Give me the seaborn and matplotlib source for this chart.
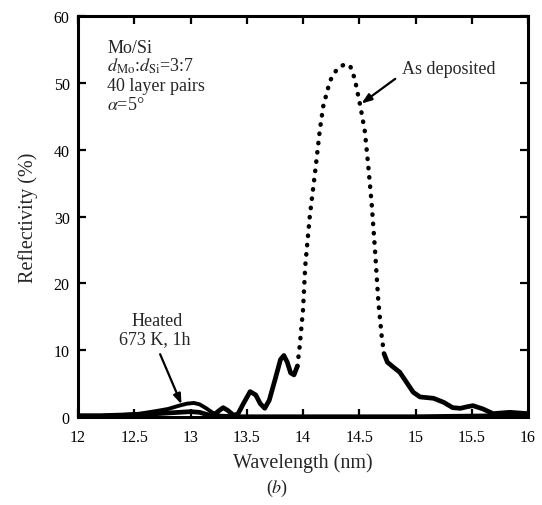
import matplotlib
matplotlib.use("Agg")
import matplotlib.pyplot as plt
import numpy as np
import pandas as pd
import seaborn as sns

# ---- data ----
wavelength_dep = [12.00, 12.20, 12.40, 12.55, 12.70, 12.80, 12.90, 13.00, 13.08, 13.14,
                  13.20, 13.25, 13.29, 13.33, 13.38, 13.42, 13.47, 13.53, 13.58, 13.62,
                  13.66, 13.70, 13.75, 13.80, 13.83, 13.86, 13.89, 13.92, 13.95, 13.97,
                  14.00, 14.02, 14.06, 14.11, 14.15, 14.18, 14.24, 14.30, 14.37, 14.42,
                  14.46, 14.51, 14.55, 14.58, 14.61, 14.64, 14.67, 14.70, 14.72, 14.75,
                  14.80, 14.86, 14.92, 14.98, 15.04, 15.10, 15.16, 15.25, 15.33, 15.40,
                  15.45, 15.51, 15.60, 15.69, 15.76, 15.84, 15.92, 16.00]
reflect_dep = [0.2, 0.2, 0.3, 0.4, 0.5, 0.6, 0.7, 0.8, 0.7, 0.4,
               0.2, 0.9, 1.4, 1.0, 0.3, 0.4, 2.0, 3.8, 3.3, 2.0,
               1.3, 2.5, 5.5, 8.6, 9.2, 8.2, 6.6, 6.3, 7.6, 10.5,
               16.0, 22.6, 30.0, 37.0, 43.0, 46.5, 50.3, 52.0, 52.8, 52.5,
               50.6, 46.5, 42.7, 37.6, 32.0, 25.0, 17.2, 12.0, 9.5, 8.2,
               7.5, 6.7, 5.2, 3.7, 3.0, 2.9, 2.8, 2.2, 1.4, 1.3,
               1.5, 1.7, 1.2, 0.5, 0.6, 0.7, 0.6, 0.5]

wavelength_heat = [12.00, 12.20, 12.40, 12.55, 12.70, 12.80, 12.90, 12.97, 13.03, 13.08,
                   13.14, 13.20, 13.26, 13.40, 13.70, 14.00, 14.50, 15.00, 15.50, 16.00]
reflect_heat = [0.1, 0.15, 0.3, 0.5, 0.9, 1.2, 1.7, 2.0, 2.1, 1.9,
                1.3, 0.6, 0.2, 0.1, 0.1, 0.1, 0.1, 0.1, 0.2, 0.3]

x_ticks = [12, 12.5, 13, 13.5, 14, 14.5, 15, 15.5, 16]
x_tick_labels = ["12", "12.5", "13", "13.5", "14", "14.5", "15", "15.5", "16"]
y_ticks = [0, 10, 20, 30, 40, 50, 60]
y_tick_labels = ["0", "10", "20", "30", "40", "50", "60"]

# ---- style ----
sns.set_style("ticks")
plt.rcParams["font.family"] = ["Liberation Serif", "DejaVu Serif"]
plt.rcParams["mathtext.fontset"] = "stix"

fig = plt.figure(figsize=(5.42, 5.06), dpi=100)
ax = fig.add_axes([78 / 542, 88 / 506, 450 / 542, 401 / 506])

dep = pd.DataFrame({"wl": wavelength_dep, "R": reflect_dep})
heat = pd.DataFrame({"wl": wavelength_heat, "R": reflect_heat})

STEEP_LO, STEEP_HI = 13.95, 14.72
left_part = dep[dep["wl"] <= STEEP_LO]
steep_part = dep[(dep["wl"] >= STEEP_LO) & (dep["wl"] <= STEEP_HI)]
right_part = dep[dep["wl"] >= STEEP_HI]

sns.lineplot(data=heat, x="wl", y="R", ax=ax, color="black", lw=2.8,
             solid_capstyle="round")
sns.lineplot(data=left_part, x="wl", y="R", ax=ax, color="black", lw=3.4,
             solid_capstyle="round", solid_joinstyle="round")
sns.lineplot(data=right_part, x="wl", y="R", ax=ax, color="black", lw=3.4,
             solid_capstyle="round", solid_joinstyle="round")
sns.lineplot(data=steep_part, x="wl", y="R", ax=ax, color="black", lw=3.2,
             linestyle=(0, (0.1, 2.0)), dash_capstyle="round")

ax.set_xlim(12, 16)
ax.set_ylim(0, 60)
ax.set_xticks(x_ticks)
ax.set_xticklabels(x_tick_labels)
ax.set_yticks(y_ticks)
ax.set_yticklabels(y_tick_labels)
ax.tick_params(direction="in", length=6, width=1.6, top=True, right=True,
               labelsize=11.5, colors="black")
ax.tick_params(axis="x", pad=9)
ax.tick_params(axis="y", pad=6)
for sp in ax.spines.values():
    sp.set_linewidth(2.2)
    sp.set_color("black")

ax.set_xlabel("Wavelength (nm)", fontsize=14.5, labelpad=5)
ax.set_ylabel("Reflectivity (%)", fontsize=14.5, labelpad=11)

# ---- annotations ----
tfs = 13
ax.text(12.26, 54.6, "Mo/Si", fontsize=tfs, va="baseline", ha="left")
ax.text(12.26, 51.8, r"$d_{\mathrm{Mo}}$:$d_{\mathrm{Si}}$=3:7", fontsize=tfs,
        va="baseline", ha="left")
ax.text(12.26, 49.0, "40 layer pairs", fontsize=tfs, va="baseline", ha="left")
ax.text(12.26, 46.1, r"$\alpha$=5°", fontsize=tfs, va="baseline", ha="left")

ax.text(14.88, 52.1, "As deposited", fontsize=tfs, va="center", ha="left")
ax.annotate("", xy=(14.52, 46.9), xytext=(14.82, 50.6),
            arrowprops=dict(arrowstyle="-|>,head_length=0.6,head_width=0.22",
                            color="black", lw=1.6, shrinkA=0, shrinkB=0))

ax.text(12.70, 14.5, "Heated", fontsize=tfs, va="center", ha="center")
ax.text(12.68, 11.7, "673 K, 1h", fontsize=tfs, va="center", ha="center")
ax.annotate("", xy=(12.92, 1.9), xytext=(12.73, 9.4),
            arrowprops=dict(arrowstyle="-|>,head_length=0.6,head_width=0.22",
                            color="black", lw=1.6, shrinkA=0, shrinkB=0))

fig.text(277 / 542, 1 - 488 / 506, r"($b$)", fontsize=13, ha="center", va="center")

fig.savefig("out.png", dpi=100)
